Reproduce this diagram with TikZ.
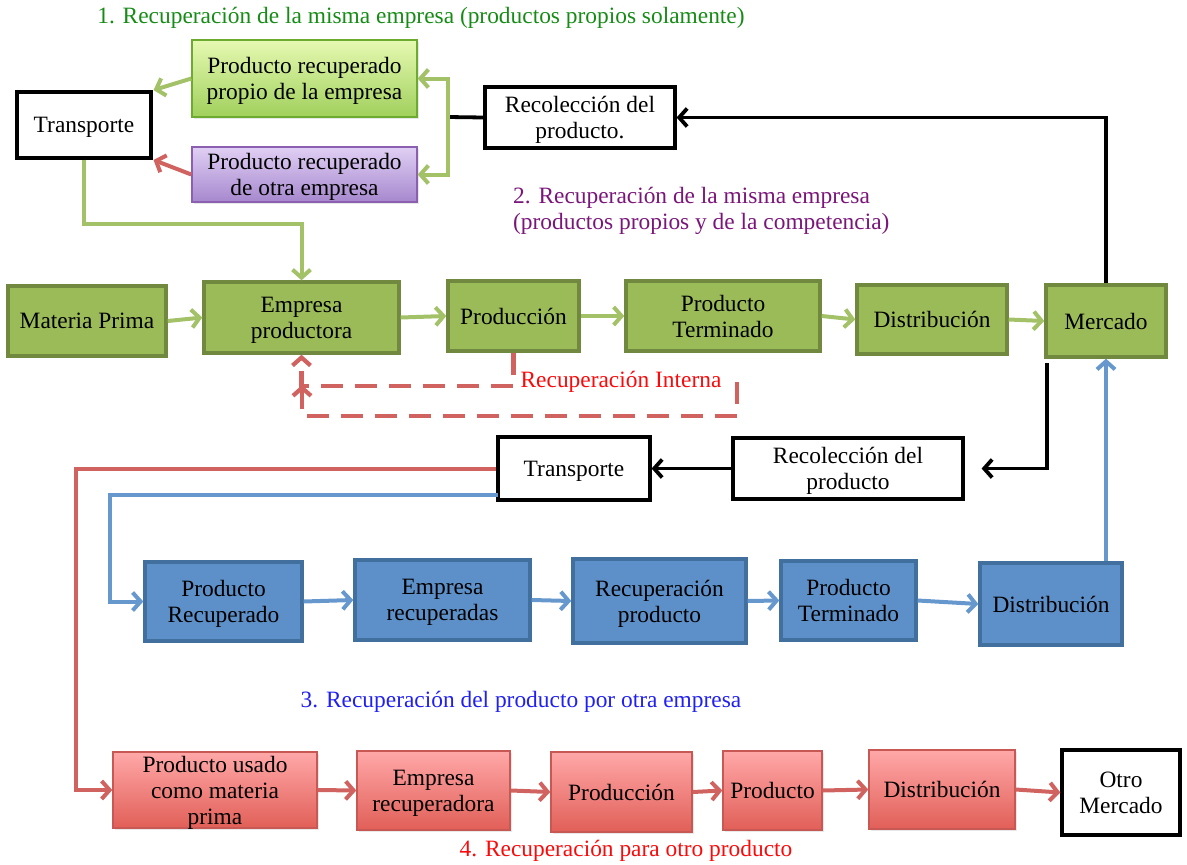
\documentclass[tikz,border=0pt]{standalone}
\usepackage{fontspec}
\setmainfont{Liberation Serif}
\usetikzlibrary{arrows.meta,calc,shadows}
% palette
\definecolor{gfill}{RGB}{155,187,89}
\definecolor{gedge}{RGB}{113,137,63}
\definecolor{gline}{RGB}{163,194,104}
\definecolor{bfill}{RGB}{93,144,200}
\definecolor{bedge}{RGB}{66,112,158}
\definecolor{bline}{RGB}{102,152,206}
\definecolor{redge}{RGB}{200,88,84}
\definecolor{rline}{RGB}{208,98,95}
\definecolor{rtop}{RGB}{255,168,168}
\definecolor{rbot}{RGB}{225,95,88}
\definecolor{lgtop}{RGB}{230,249,178}
\definecolor{lgbot}{RGB}{160,208,92}
\definecolor{lgedge}{RGB}{108,170,48}
\definecolor{ptop}{RGB}{224,207,244}
\definecolor{pbot}{RGB}{166,136,206}
\definecolor{pedge}{RGB}{140,95,176}
\definecolor{tgreen}{RGB}{22,140,22}
\definecolor{tpurple}{RGB}{122,22,122}
\definecolor{tblue}{RGB}{32,32,240}
\definecolor{tred}{RGB}{250,10,10}
\begin{document}
\begin{tikzpicture}[x=1pt,y=-1pt,
  font=\fontsize{23.4}{26}\selectfont,
  sz/.style 2 args={minimum width=#1pt,minimum height=#2pt},
  soft/.style={drop shadow={opacity=0.18,shadow xshift=1.5pt,shadow yshift=-2pt}},
  box/.style={rectangle,align=center,inner sep=1pt,text depth=0pt},
  wbox/.style={box,draw=black,fill=white,line width=3.2pt,soft},
  gbox/.style={box,draw=gedge,fill=gfill,line width=3.4pt,soft},
  bbox/.style={box,draw=bedge,fill=bfill,line width=3.4pt,soft},
  rbox/.style={box,draw=redge,top color=rtop,bottom color=rbot,line width=1.4pt,soft},
  lgbox/.style={box,draw=lgedge,top color=lgtop,bottom color=lgbot,line width=1.4pt,soft},
  pbox/.style={box,draw=pedge,top color=ptop,bottom color=pbot,line width=1.4pt,soft},
  tipv/.style={-{Straight Barb[length=8pt,width=18pt]}},
  gar/.style={draw=gline,line width=4pt,tipv},
  kar/.style={draw=black,line width=3.8pt,tipv},
  bar/.style={draw=bline,line width=4pt,tipv},
  rar/.style={draw=rline,line width=4pt,tipv},
  rdash/.style={draw=rline,line width=4.2pt,dash pattern=on 22pt off 12pt},
  label/.style={inner sep=0pt}]
\useasboundingbox (0,0) rectangle (1187,865);

% titles
\node[label,text=tgreen] (h1) at (421,18) {1. Recuperación de la misma empresa (productos propios solamente)};
\node[label,text=tpurple,align=left,anchor=west] (h2) at (513,211) {2. Recuperación de la misma empresa\\(productos propios y de la competencia)};
\node[label,text=tred] (h5) at (621,382) {Recuperación Interna};
\node[label,text=tblue] (h3) at (521,702) {3. Recuperación del producto por otra empresa};
\node[label,text=tred] (h4) at (626,851) {4. Recuperación para otro producto};

% upper loop
\node[wbox,sz={134}{66}] (t1) at (84,125) {Transporte};
\node[lgbox,sz={225}{77}] (pr1) at (304.5,78.5) {Producto recuperado\\propio de la empresa};
\node[pbox,sz={225}{55}] (pr2) at (304.5,174.5) {Producto recuperado\\de otra empresa};
\node[wbox,sz={190}{61}] (rc1) at (580,117.5) {Recolección del\\producto.};

% main chain
\node[gbox,sz={158}{70}] (mp) at (87,321) {Materia Prima};
\node[gbox,sz={195}{71}] (ep) at (301.5,317.5) {Empresa\\productora};
\node[gbox,sz={131}{70}] (pd) at (513.5,316) {Producción};
\node[gbox,sz={194}{70}] (pt) at (723,316) {Producto\\Terminado};
\node[gbox,sz={150}{69}] (ds) at (932,319.5) {Distribución};
\node[gbox,sz={120}{72}] (mc) at (1106,321) {Mercado};

% collection for other firms
\node[wbox,sz={230}{61}] (rc2) at (848,468.5) {Recolección del\\producto};
\node[wbox,sz={152}{63}] (t2) at (574,468.5) {Transporte};

% blue chain
\node[bbox,sz={157}{79}] (b1) at (223.5,601.5) {Producto\\Recuperado};
\node[bbox,sz={175}{80}] (b2) at (442.5,600) {Empresa\\recuperadas};
\node[bbox,sz={173}{84}] (b3) at (659.5,601) {Recuperación\\producto};
\node[bbox,sz={135}{79}] (b4) at (848.5,600.5) {Producto\\Terminado};
\node[bbox,sz={142}{82}] (b5) at (1051,604) {Distribución};

% red chain
\node[rbox,sz={204}{76}] (r1) at (215,790) {Producto usado\\como materia\\prima};
\node[rbox,sz={153}{79}] (r2) at (433.5,790.5) {Empresa\\recuperadora};
\node[rbox,sz={141}{80}] (r3) at (621.5,792) {Producción};
\node[rbox,sz={99}{79}] (r4) at (772.5,790.5) {Producto};
\node[rbox,sz={146}{79}] (r5) at (942,789.5) {Distribución};
\node[wbox,sz={118}{85}] (om) at (1121,792.5) {Otro\\Mercado};

% junction points
\coordinate (sp) at (448,117);
\coordinate (m2) at (1047,363);
\coordinate (tr) at (t2.west);
\coordinate (tb) at (498,495);
\coordinate (rib) at (302,385);
\coordinate (ri) at (737,382);

% upper loop connectors
\draw[gar] (t1.south) -- ++(0,64) -| (ep.north);
\draw[gar,shorten >=1pt] (pr1.west) -- (t1.north east);
\draw[rar,shorten >=1pt] (pr2.west) -- (t1.south east);
\draw[draw=black,line width=3.8pt] (rc1.west) -- (sp);
\draw[gar] (sp) |- (pr1.east);
\draw[gar] (sp) |- (pr2.east);
\draw[kar] (mc.north) |- (rc1.east);

% main chain
\draw[gar] (mp.east) -- (ep.west);
\draw[gar] (ep.east) -- (pd.west);
\draw[gar] (pd.east) -- (pt.west);
\draw[gar] (pt.east) -- (ds.west);
\draw[gar] (ds.east) -- (mc.west);

% internal recovery (dashed)
\draw[rdash,tipv] (pd.south) -- ++(0,33) -| (ep.south);
\draw[rdash,tipv] (ri) -- ++(0,34) -| (rib);

% collection
\draw[kar,shorten >=17pt] (m2) |- (rc2.east);
\draw[kar] (rc2.west) -- (t2.east);
\draw[rar] (tr) -- ++(-420,0) |- (r1.west);
\draw[bar] (tb) -- ++(-388,0) |- (b1.west);

% blue chain
\draw[bar] (b1.east) -- (b2.west);
\draw[bar] (b2.east) -- (b3.west);
\draw[bar] (b3.east) -- (b4.west);
\draw[bar] (b4.east) -- (b5.west);
\draw[bar] (mc.south |- b5.north) -- (mc.south);

% red chain
\draw[rar] (r1.east) -- (r2.west);
\draw[rar] (r2.east) -- (r3.west);
\draw[rar] (r3.east) -- (r4.west);
\draw[rar] (r4.east) -- (r5.west);
\draw[rar] (r5.east) -- (om.west);
\end{tikzpicture}
\end{document}
